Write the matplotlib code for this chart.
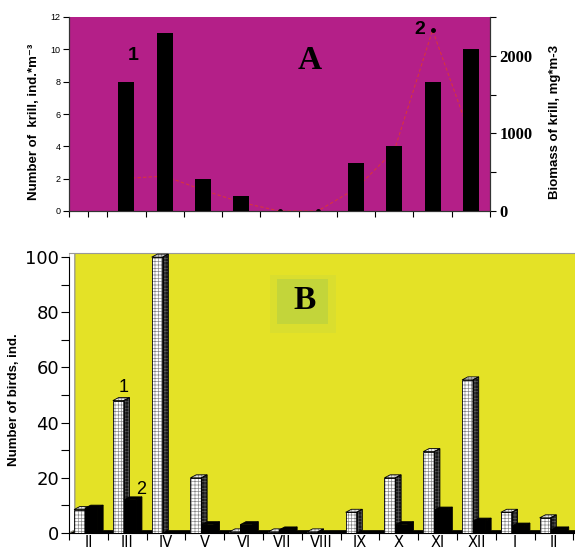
import numpy as np
import matplotlib.pyplot as plt
from matplotlib.patches import Polygon, Rectangle

plt.rcParams['font.family'] = ['Liberation Sans', 'DejaVu Sans']
plt.rcParams['hatch.linewidth'] = 0.5

#%% Data
# panel A - krill
krill_pos = np.arange(1, 11)
krill_number = [8, 11, 2, 0.9, 0, 0, 3, 4, 8, 10]          # ind*m-3
krill_biomass = [420, 450, 270, 110, 0, 0, 290, 780, 2330, 950]  # mg*m-3

# panel B - birds
months = ['II', 'III', 'IV', 'V', 'VI', 'VII', 'VIII', 'IX', 'X', 'XI', 'XII', 'I', 'II']
birds_1 = [8.5, 48, 100, 20, 0.4, 0.4, 0.4, 7.5, 20, 29.5, 55.5, 7.5, 5.5]
birds_2 = [9, 12, 0, 3, 3, 1.1, 0, 0, 3, 8.3, 4.3, 2.5, 1.1]

magenta = '#B41F88'
yellow = '#E4E226'

W, H = 575, 552
def frac(l, t, r, b):
    return [l / W, 1 - b / H, (r - l) / W, (b - t) / H]

fig = plt.figure(figsize=(W / 100, H / 100), dpi=100)

#%% Panel A
axA = fig.add_axes(frac(69, 17, 490, 211))
axR = axA.twinx()
axA.set_zorder(axR.get_zorder() + 1)
axA.patch.set_visible(False)
axR.patch.set_visible(True)
axR.set_facecolor(magenta)

axA.bar(krill_pos, krill_number, width=0.42, color='black', zorder=3)
axR.plot(krill_pos, krill_biomass, color='#D8343E', lw=0.8, ls=(0, (3, 2)),
         marker='o', ms=2.5, mfc='black', mec='black')

axA.set_xlim(-0.5, 10.5)
axA.set_ylim(0, 12)
axR.set_ylim(0, 2500)
axA.set_xticks([-0.5, 0] + list(np.arange(0.5, 11, 1)))
axA.set_xticklabels([])
axA.set_yticks(range(0, 13, 2))
axA.tick_params(axis='y', labelsize=6.5, length=4, width=0.8, pad=2)
axA.tick_params(axis='x', length=4, width=0.8)
axR.set_yticks(range(0, 2501, 500))
axR.set_yticklabels(['0', '', '1000', '', '2000', ''],
                    fontfamily='Liberation Serif', fontweight='bold', fontsize=12)
axR.tick_params(axis='y', length=4, width=0.8, pad=3)
for a in (axA, axR):
    a.spines['top'].set_visible(False)
    for s in ('left', 'right', 'bottom'):
        a.spines[s].set_color('#333333')
        a.spines[s].set_linewidth(0.8)

axA.text(1.17, 9.6, '1', fontsize=14, fontweight='bold', ha='center', va='center')
axA.text(8.67, 11.25, '2', fontsize=14, fontweight='bold', ha='center', va='center')
axA.text(5.8, 9.3, 'A', fontsize=24, fontweight='bold', family='Liberation Serif',
         ha='center', va='center')

fig.text(34 / W, 1 - 122 / H, 'Number of  krill, ind.*m\u207b\u00b3', rotation=90,
         fontsize=9.5, fontweight='bold', ha='center', va='center')
fig.text(555 / W, 1 - 122 / H, 'Biomass of krill, mg*m-3', rotation=90,
         fontsize=9.5, fontweight='bold', ha='center', va='center')

#%% Panel B (pseudo 3D columns)
axB = fig.add_axes(frac(69, 253, 575, 533))
axB.set_facecolor(yellow)
xl, xr = -0.5, -0.5 + 506 / 38.8
axB.set_xlim(xl, xr)
axB.set_ylim(0, 101.5)
dx, dy = 0.15, 1.1

def box3d(ax, x0, w, h, front, side, top, hatch=None):
    f = [(x0, 0), (x0 + w, 0), (x0 + w, h), (x0, h)]
    s = [(x0 + w, 0), (x0 + w + dx, dy), (x0 + w + dx, h + dy), (x0 + w, h)]
    t = [(x0, h), (x0 + w, h), (x0 + w + dx, h + dy), (x0 + dx, h + dy)]
    hc = '#8a8a8a' if hatch else 'black'
    ax.add_patch(Polygon(s, facecolor=side, edgecolor='#555555' if hatch else 'black',
                         hatch=hatch, lw=0, zorder=3))
    ax.add_patch(Polygon(t, facecolor=top, edgecolor=hc, hatch=hatch, lw=0, zorder=3))
    ax.add_patch(Polygon(f, facecolor=front, edgecolor=hc, hatch=hatch, lw=0, zorder=3))
    for p in (s, t, f):
        ax.add_patch(Polygon(p, facecolor='none', edgecolor='black', lw=0.6, zorder=3))

# floor and side wall
axB.add_patch(Polygon([(xl, 0), (xr, 0), (xr, dy), (xl + dx, dy)],
                      facecolor='black', edgecolor='black', lw=0.5, zorder=2))
axB.add_patch(Polygon([(xl, 0), (xl + dx, dy), (xl + dx, 101.5), (xl, 101.5)],
                      facecolor='white', edgecolor='#888888', lw=0.8, zorder=2))

x = np.arange(len(months))
for i in range(len(months)):
    box3d(axB, x[i] - 0.37, 0.28, birds_1[i], 'white', '#1a1a1a', '#e6e6e6', hatch='+++++')
    if birds_2[i] > 0:
        box3d(axB, x[i] - 0.09, 0.32, birds_2[i], 'black', 'black', 'black')

axB.set_xticks(np.arange(-0.5, 13, 1))
axB.set_xticklabels([])
axB.set_xticks(x, minor=True)
axB.set_xticklabels(months, minor=True, family='DejaVu Sans', fontsize=10.5)
axB.tick_params(axis='x', which='major', length=5, width=0.8, direction='out')
axB.tick_params(axis='x', which='minor', length=0, pad=1.5)
axB.set_yticks(range(0, 101, 20))
axB.set_yticklabels([str(v) for v in range(0, 101, 20)], family='DejaVu Sans', fontsize=13)
axB.set_yticks(range(10, 100, 20), minor=True)
axB.tick_params(axis='y', which='both', length=6, width=0.8, pad=1)

axB.spines['right'].set_visible(False)
axB.spines['top'].set_color('#999999')
axB.spines['left'].set_bounds(0, 100)

axB.text(0.92, 52.9, '1', fontsize=13, ha='center', va='center')
axB.text(1.36, 15.9, '2', fontsize=13, ha='center', va='center')
axB.add_patch(Rectangle((4.67, 72.5), 1.72, 21, facecolor='#DADE2E', lw=0, zorder=1))
axB.add_patch(Rectangle((4.86, 75.7), 1.32, 16.3, facecolor='#C3D53A', lw=0, zorder=1))
axB.text(5.57, 84.2, 'B', fontsize=24, fontweight='bold', family='Liberation Serif',
         ha='center', va='center', zorder=2)

fig.text(14 / W, 1 - 400 / H, 'Number of birds, ind.', rotation=90,
         fontsize=9.5, fontweight='bold', ha='center', va='center')

fig.savefig('out.png', dpi=100)
